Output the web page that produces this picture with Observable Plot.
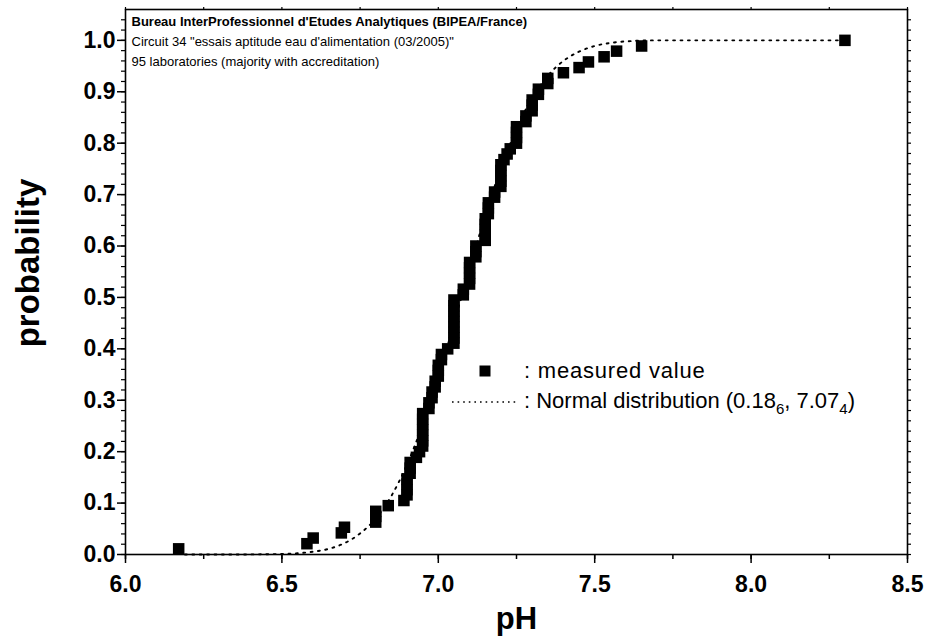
<!DOCTYPE html>
<html><head><meta charset="utf-8">
<script src="https://cdn.jsdelivr.net/npm/d3@7"></script>
<script src="https://cdn.jsdelivr.net/npm/@observablehq/plot@0.6"></script>
<style>
body{margin:0;background:#fff;font-family:Arial,"Liberation Sans",sans-serif;}
#wrap{position:relative;width:930px;height:639px;overflow:hidden;}
.leg{position:absolute;font-size:22px;color:#000;white-space:nowrap;line-height:1;transform:translateY(-50%);}
.leg sub{font-size:15px;vertical-align:-6px;line-height:0;}
</style></head><body><div id="wrap"></div>
<script>
// measured pH values (sorted), 95 laboratories
const phValues = [
  6.17, 6.58, 6.60, 6.69, 6.70, 6.80, 6.80, 6.80, 6.84, 6.89,
  6.90, 6.90, 6.90, 6.90, 6.91, 6.91, 6.91, 6.93, 6.94,
  6.95, 6.95, 6.95, 6.95, 6.95, 6.95, 6.95,
  6.97, 6.97, 6.98, 6.98, 6.99, 6.99,
  7.00, 7.00, 7.00, 7.01, 7.01, 7.03,
  7.05, 7.05, 7.05, 7.05, 7.05, 7.05, 7.05, 7.05, 7.05,
  7.08, 7.08, 7.10, 7.10, 7.10, 7.10, 7.10,
  7.12, 7.12, 7.12, 7.15, 7.15, 7.15, 7.15, 7.15,
  7.16, 7.16, 7.16, 7.18, 7.18,
  7.20, 7.20, 7.20, 7.20, 7.20, 7.21, 7.22, 7.23,
  7.25, 7.25, 7.25, 7.25, 7.28, 7.28, 7.30, 7.30, 7.30,
  7.32, 7.32, 7.35, 7.35,
  7.40, 7.45, 7.48, 7.53, 7.57, 7.65, 8.30
];
// cumulative probability of each measured value
const probability = [
  0.011,0.021,0.032,0.042,0.053,0.063,0.074,0.084,0.095,0.105,
  0.116,0.126,0.137,0.147,0.158,0.168,0.179,0.189,0.200,
  0.211,0.221,0.232,0.242,0.253,0.263,0.274,
  0.284,0.295,0.305,0.316,0.326,0.337,
  0.347,0.358,0.368,0.379,0.389,0.400,
  0.411,0.421,0.432,0.442,0.453,0.463,0.474,0.484,0.495,
  0.505,0.516,0.526,0.537,0.547,0.558,0.568,
  0.579,0.589,0.600,0.611,0.621,0.632,0.642,0.653,
  0.663,0.674,0.684,0.695,0.705,
  0.716,0.726,0.737,0.747,0.758,0.768,0.779,0.789,
  0.800,0.811,0.821,0.832,0.842,0.853,0.863,0.874,0.884,
  0.895,0.905,0.916,0.926,
  0.937,0.947,0.958,0.968,0.979,0.989,1.000
];
// dotted normal distribution curve
const normalPH = [6.19,6.30,6.40,6.50,6.55,6.60,6.65,6.70,6.75,6.80,6.85,6.90,6.95,7.00,7.05,7.10,7.15,7.20,7.25,7.30,7.35,7.40,7.45,7.50,7.55,7.60,7.70,7.80,8.00,8.28];
const normalP  = [0,0,0.0002,0.001,0.0024,0.0054,0.011,0.022,0.041,0.070,0.114,0.175,0.253,0.345,0.449,0.556,0.659,0.751,0.828,0.888,0.931,0.960,0.978,0.989,0.995,0.998,1.0,1.0,1.0,1.0];

// ticks
const xMajor = [6.0, 6.5, 7.0, 7.5, 8.0, 8.5];
const xMinor = [6.0, 6.25, 6.5, 6.75, 7.0, 7.25, 7.5, 7.75, 8.0, 8.25, 8.5];
const yMajor = [0.0, 0.1, 0.2, 0.3, 0.4, 0.5, 0.6, 0.7, 0.8, 0.9, 1.0];
const yMinor = d3.range(0, 53).map(i => +(i * 0.02).toFixed(2));

const titleLines = [
  "Bureau InterProfessionnel d'Etudes Analytiques (BIPEA/France)",
  "Circuit 34 \"essais aptitude eau d'alimentation (03/2005)\"",
  "95 laboratories (majority with accreditation)"
];
const xLabel = "pH";
const yLabel = "probability";

const rows = phValues.map((x, i) => ({x, p: probability[i]}));
const normal = normalPH.map((x, i) => ({x, p: normalP[i]}));
const blank = () => "";

const chart = Plot.plot({
  width: 930, height: 639,
  marginLeft: 125, marginRight: 23, marginTop: 9, marginBottom: 85,
  x: {domain: [6, 8.5], label: null},
  y: {domain: [0, 1.06], label: null},
  style: {fontFamily: "Arial, 'Liberation Sans', sans-serif", background: "white", color: "black", overflow: "visible"},
  marks: [
    Plot.axisX(xMinor, {tickSize: 5, tickFormat: blank, label: null, strokeWidth: 1.5}),
    Plot.axisX(xMajor, {tickSize: 9, tickPadding: 12, tickFormat: ".1f", label: null, fontSize: 23, fontWeight: "bold", strokeWidth: 1.5}),
    Plot.axisX(xMinor, {anchor: "top", tickSize: 3, tickFormat: blank, label: null, strokeWidth: 1.2}),
    Plot.axisY(yMinor, {tickSize: 4, tickFormat: blank, label: null, strokeWidth: 1.2}),
    Plot.axisY(yMajor, {tickSize: 8, tickPadding: 2, tickFormat: ".1f", label: null, fontSize: 23, fontWeight: "bold", strokeWidth: 1.5}),
    Plot.axisY(yMinor, {anchor: "right", tickSize: 3, tickFormat: blank, label: null, strokeWidth: 1.2}),
    Plot.frame({stroke: "black", strokeWidth: 1.6}),
    Plot.line(normal, {x: "x", y: "p", stroke: "black", strokeWidth: 1.9, strokeDasharray: "1.9,5.5", curve: "monotone-x"}),
    Plot.dot(rows, {x: "x", y: "p", symbol: "square", r: 6.5, fill: "black", stroke: "none"}),
    Plot.text([titleLines[0]], {text: d => d, frameAnchor: "top-left", dx: 6, dy: 7, textAnchor: "start", fontSize: 13, fontWeight: "bold"}),
    Plot.text([titleLines[1]], {text: d => d, frameAnchor: "top-left", dx: 6, dy: 27, textAnchor: "start", fontSize: 13}),
    Plot.text([titleLines[2]], {text: d => d, frameAnchor: "top-left", dx: 6, dy: 47, textAnchor: "start", fontSize: 13}),
    Plot.text([xLabel], {text: d => d, frameAnchor: "bottom", textAnchor: "middle", dy: 74, fontSize: 31, fontWeight: "bold"}),
    Plot.text([yLabel], {text: d => d, frameAnchor: "left", textAnchor: "middle", dx: -97, dy: -19, rotate: -90, fontSize: 33, fontWeight: "bold"})
  ]
});
const wrap = document.getElementById("wrap");
wrap.appendChild(chart);

// legend overlay
const legend = [
  {kind: "square", html: ": measured value", top: 371, spacing: "0.8px"},
  {kind: "dots", html: ": Normal distribution (0.18<sub>6</sub>, 7.07<sub>4</sub>)", top: 401, spacing: "0px"}
];
for (const l of legend) {
  const sym = document.createElementNS("http://www.w3.org/2000/svg", "svg");
  sym.setAttribute("width", 80); sym.setAttribute("height", 20);
  sym.style.position = "absolute"; sym.style.left = "448px"; sym.style.top = (l.top - 10) + "px";
  if (l.kind === "square") {
    sym.innerHTML = '<rect x="31.5" y="4.5" width="11" height="11" fill="black"/>';
  } else {
    sym.innerHTML = '<line x1="4" x2="70" y1="11" y2="11" stroke="black" stroke-width="1.6" stroke-dasharray="1.6,4"/>';
  }
  wrap.appendChild(sym);
  const t = document.createElement("div");
  t.className = "leg"; t.innerHTML = l.html;
  t.style.left = "524px"; t.style.top = l.top + "px"; t.style.letterSpacing = l.spacing;
  wrap.appendChild(t);
}
</script>
</body></html>
